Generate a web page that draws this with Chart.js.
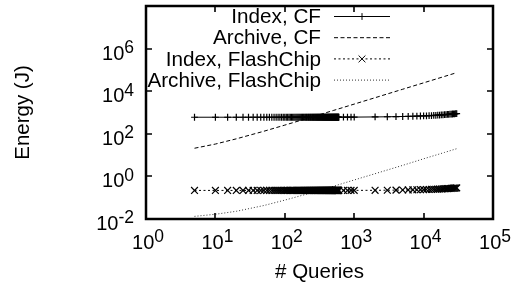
<!DOCTYPE html>
<html>
<head>
<meta charset="utf-8">
<script src="https://cdn.jsdelivr.net/npm/chart.js@4.4.0/dist/chart.umd.min.js"></script>
<style>
  body { margin: 0; background: #fff; }
  #wrap { width: 517px; height: 287px; }
</style>
</head>
<body>
<div id="wrap"><canvas id="energyChart" width="517" height="287"></canvas></div>
<script>
/* --------------- Values --------------------------------------- */
const seriesNames = ["Index, CF", "Archive, CF", "Index, FlashChip", "Archive, FlashChip"];

// query counts where the index series have a marker
const indexQueries = [
  5, 10, 15, 20, 25, 30, 35, 40, 45, 50,
  55, 60, 65, 70, 75, 80, 85, 90, 95, 100,
  105, 110, 115, 120, 125, 130, 135, 140, 145, 150,
  155, 160, 165, 170, 175, 180, 185, 190, 195, 200,
  205, 210, 215, 220, 225, 230, 235, 240, 245, 250,
  255, 260, 265, 270, 275, 280, 285, 290, 295, 300,
  305, 310, 315, 320, 325, 330, 335, 340, 345, 350,
  355, 360, 365, 370, 375, 380, 385, 390, 395, 400,
  405, 410, 415, 420, 425, 430, 435, 440, 445, 450,
  455, 460, 465, 470, 475, 480, 485, 490, 495, 500,
  505, 510, 515, 520, 525, 530, 535, 540, 545, 550,
  555, 560, 565, 570, 575, 580, 585, 590, 595, 600,
  700, 800, 900, 1000,
  2000, 3000, 4000, 5000, 6000, 7000, 8000, 9000, 10000, 11000,
  12000, 13000, 14000, 15000, 16000, 17000, 18000, 19000, 20000, 21000,
  22000, 23000, 24000, 25000, 26000, 27000, 28000, 29000, 30000
];
const indexCfEnergy = [
  600, 600, 600, 600, 600, 600, 600, 600, 600, 600,
  600, 600, 600, 600, 600, 600, 600, 600, 600, 600,
  600, 600, 600, 600, 600, 600, 600, 600, 600, 600,
  600, 600, 600, 600, 600, 600, 600, 600, 600, 600,
  600, 600, 600, 600, 600, 600, 600, 600, 600, 600,
  600, 600, 600, 600, 600, 600, 600, 600, 600, 600,
  600, 600, 600, 600, 600, 600, 600, 600, 600, 600,
  600, 600, 600, 600, 600, 600, 600, 600, 600, 600,
  600, 600, 600, 600, 600, 600, 600, 600, 600, 600,
  600, 600, 600, 600, 600, 600, 600, 600, 600, 600,
  600, 600, 600, 600, 600, 600, 600, 600, 600, 600,
  600, 600, 600, 600, 600, 600, 600, 600, 600, 600,
  602, 604, 606, 608,
  620, 630, 640, 650, 655, 665, 675, 685, 695, 700,
  710, 720, 730, 740, 750, 760, 770, 780, 790, 800,
  810, 820, 830, 840, 850, 860, 870, 880, 890
];
const indexFlashEnergy = [
  0.22, 0.22, 0.22, 0.22, 0.22, 0.22, 0.22, 0.22, 0.22, 0.22,
  0.22, 0.22, 0.22, 0.22, 0.22, 0.22, 0.22, 0.22, 0.22, 0.22,
  0.22, 0.22, 0.22, 0.22, 0.22, 0.22, 0.22, 0.22, 0.22, 0.22,
  0.22, 0.22, 0.22, 0.22, 0.22, 0.22, 0.22, 0.22, 0.22, 0.22,
  0.22, 0.22, 0.22, 0.22, 0.22, 0.22, 0.22, 0.22, 0.22, 0.22,
  0.22, 0.22, 0.22, 0.22, 0.22, 0.22, 0.22, 0.22, 0.22, 0.22,
  0.22, 0.22, 0.22, 0.22, 0.22, 0.22, 0.22, 0.22, 0.22, 0.22,
  0.22, 0.22, 0.22, 0.22, 0.22, 0.22, 0.22, 0.22, 0.22, 0.22,
  0.22, 0.22, 0.22, 0.22, 0.22, 0.22, 0.22, 0.22, 0.22, 0.22,
  0.22, 0.22, 0.22, 0.22, 0.22, 0.22, 0.22, 0.22, 0.22, 0.22,
  0.22, 0.22, 0.22, 0.22, 0.22, 0.22, 0.22, 0.22, 0.22, 0.22,
  0.22, 0.22, 0.22, 0.22, 0.22, 0.22, 0.22, 0.22, 0.22, 0.22,
  0.22, 0.22, 0.221, 0.221,
  0.222, 0.225, 0.227, 0.23, 0.232, 0.234, 0.236, 0.238, 0.24, 0.242,
  0.244, 0.246, 0.248, 0.25, 0.253, 0.255, 0.257, 0.26, 0.262, 0.265,
  0.267, 0.27, 0.272, 0.275, 0.278, 0.28, 0.283, 0.286, 0.29
];

// the archive curves carry no markers
const archiveQueries = [5, 10, 20, 50, 100, 200, 500, 1000, 2000, 5000, 10000, 20000, 30000];
const archiveCfEnergy = [21, 33, 58, 132, 256, 503, 1244, 2480, 4950, 12360, 24700, 49400, 74100];
const archiveFlashEnergy = [0.0133, 0.0167, 0.023, 0.043, 0.077, 0.143, 0.343, 0.68, 1.34, 3.3, 6.7, 13.3, 20];

const xTickValues = [1, 10, 100, 1000, 10000, 100000];
const yTickValues = [0.01, 1, 100, 10000, 1000000];
const xTitle = "# Queries";
const yTitle = "Energy (J)";

/* --------------- Chart --------------------- */
const FONT = '"Liberation Sans", Arial, sans-serif';
const toPoints = (xs, ys) => xs.map((x, i) => ({ x: x, y: ys[i] }));

// draws "10" with a raised exponent, anchored by its right edge or its centre
function drawPower(ctx, value, x, baseline, align) {
  const exp = String(Math.round(Math.log10(value)));
  ctx.font = "20px " + FONT;
  const wBase = ctx.measureText("10").width;
  ctx.font = "17.5px " + FONT;
  const wExp = ctx.measureText(exp).width;
  const total = wBase + wExp;
  let left = align === "right" ? x - total : x - total / 2;
  ctx.textAlign = "left";
  ctx.textBaseline = "alphabetic";
  ctx.font = "20px " + FONT;
  ctx.fillText("10", left, baseline);
  ctx.font = "17.5px " + FONT;
  ctx.fillText(exp, left + wBase, baseline - 6.6);
}

function drawMarker(ctx, style, r, x, y) {
  ctx.beginPath();
  if (style === "cross") {
    ctx.moveTo(x - r, y); ctx.lineTo(x + r, y);
    ctx.moveTo(x, y - r); ctx.lineTo(x, y + r);
  } else if (style === "crossRot") {
    const d = r * Math.SQRT1_2;
    ctx.moveTo(x - d, y - d); ctx.lineTo(x + d, y + d);
    ctx.moveTo(x - d, y + d); ctx.lineTo(x + d, y - d);
  }
  ctx.stroke();
}

const gnuplotFrame = {
  id: "gnuplotFrame",
  afterDraw(chart) {
    const ctx = chart.ctx;
    const area = chart.chartArea;
    const xs = chart.scales.x;
    const ys = chart.scales.y;
    ctx.save();
    ctx.fillStyle = "#000";
    ctx.strokeStyle = "#000";

    // inward ticks on all four sides
    ctx.lineWidth = 1.6;
    ctx.beginPath();
    xTickValues.forEach((v) => {
      const px = Math.round(xs.getPixelForValue(v));
      ctx.moveTo(px, area.bottom); ctx.lineTo(px, area.bottom - 6);
      ctx.moveTo(px, area.top); ctx.lineTo(px, area.top + 6);
    });
    yTickValues.forEach((v) => {
      const py = Math.round(ys.getPixelForValue(v));
      ctx.moveTo(area.left, py); ctx.lineTo(area.left + 6, py);
      ctx.moveTo(area.right, py); ctx.lineTo(area.right - 6, py);
    });
    ctx.stroke();

    // frame
    ctx.lineWidth = 2.5;
    ctx.strokeRect(area.left, area.top, area.right - area.left, area.bottom - area.top);

    // tick labels
    xTickValues.forEach((v) => {
      drawPower(ctx, v, xs.getPixelForValue(v) + 2, area.bottom + 30, "center");
    });
    yTickValues.forEach((v) => {
      drawPower(ctx, v, area.left - 12, ys.getPixelForValue(v) + 11, "right");
    });

    // axis titles
    ctx.font = "20.5px " + FONT;
    ctx.textAlign = "center";
    ctx.textBaseline = "middle";
    ctx.fillText(xTitle, (area.left + area.right) / 2, 272);
    ctx.save();
    ctx.translate(23, (area.top + area.bottom) / 2);
    ctx.rotate(-Math.PI / 2);
    ctx.fillText(yTitle, 0, 0);
    ctx.restore();

    // key, gnuplot style: text right aligned, sample to its right
    chart.data.datasets.forEach((ds, i) => {
      const y = 16.5 + i * 21.2;
      ctx.font = "20.7px " + FONT;
      ctx.textAlign = "right";
      ctx.textBaseline = "middle";
      ctx.fillStyle = "#000";
      ctx.fillText(ds.label, 321, y + 1);
      ctx.strokeStyle = ds.borderColor;
      ctx.lineWidth = ds.borderWidth;
      ctx.setLineDash(ds.borderDash || []);
      ctx.beginPath();
      ctx.moveTo(334, y); ctx.lineTo(390, y);
      ctx.stroke();
      ctx.setLineDash([]);
      if (ds.pointRadius > 0) drawMarker(ctx, ds.pointStyle, ds.pointRadius, 362, y);
    });
    ctx.restore();
  }
};

new Chart(document.getElementById("energyChart"), {
  type: "line",
  plugins: [gnuplotFrame],
  data: {
    datasets: [
      {
        label: seriesNames[0],
        data: toPoints(indexQueries, indexCfEnergy),
        borderColor: "#000",
        borderWidth: 1,
        pointStyle: "cross",
        pointRadius: 3.4,
        pointBorderWidth: 1.2,
        pointBorderColor: "#000",
      },
      {
        label: seriesNames[1],
        data: toPoints(archiveQueries, archiveCfEnergy),
        borderColor: "#000",
        borderWidth: 1,
        borderDash: [4, 2.5],
        pointRadius: 0,
      },
      {
        label: seriesNames[2],
        data: toPoints(indexQueries, indexFlashEnergy),
        borderColor: "#000",
        borderWidth: 1,
        borderDash: [2, 2.5],
        pointStyle: "crossRot",
        pointRadius: 4.8,
        pointBorderWidth: 1.2,
        pointBorderColor: "#000",
      },
      {
        label: seriesNames[3],
        data: toPoints(archiveQueries, archiveFlashEnergy),
        borderColor: "#333",
        borderWidth: 1,
        borderDash: [1, 2],
        pointRadius: 0,
      },
    ],
  },
  options: {
    responsive: false,
    animation: false,
    events: [],
    layout: { padding: { left: 146, right: 24, top: 5, bottom: 68 } },
    plugins: {
      legend: { display: false },
      tooltip: { enabled: false },
    },
    scales: {
      x: { type: "logarithmic", min: 1, max: 100000, display: false },
      y: { type: "logarithmic", min: 0.01, max: 100000000, display: false },
    },
  },
});
</script>
</body>
</html>
